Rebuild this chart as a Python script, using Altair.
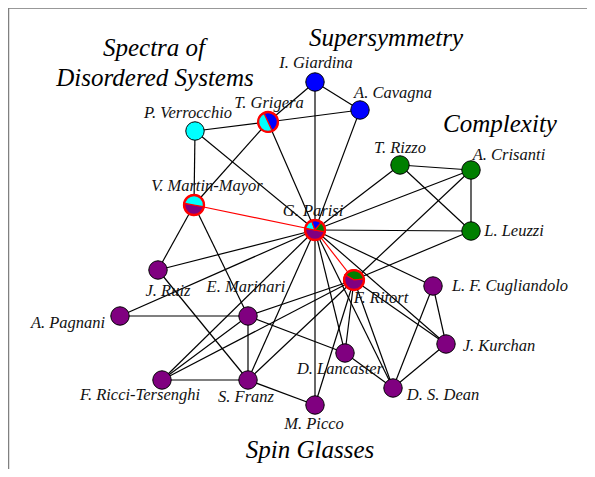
import math
import altair as alt
import pandas as pd

# ---------------- data ----------------
names = ["I. Giardina", "A. Cavagna", "T. Grigera", "P. Verrocchio", "T. Rizzo",
         "A. Crisanti", "L. Leuzzi", "V. Martin-Mayor", "G. Parisi", "J. Ruiz",
         "F. Ritort", "L. F. Cugliandolo", "A. Pagnani", "E. Marinari", "J. Kurchan",
         "D. Lancaster", "F. Ricci-Tersenghi", "S. Franz", "D. S. Dean", "M. Picco"]
node_x = [315, 360, 268, 195, 400, 471, 471, 194, 315, 158,
          354, 433, 120, 248, 446, 345, 162, 248, 393, 315]
node_y = [82, 110, 122, 131, 165, 170, 231, 205, 230, 270,
          280, 286, 316, 316, 344, 353, 380, 380, 388, 405]
node_field = ["Supersymmetry", "Supersymmetry", "mixed", "Spectra", "Complexity",
              "Complexity", "Complexity", "mixed", "mixed", "Spin Glasses",
              "mixed", "Spin Glasses", "Spin Glasses", "Spin Glasses", "Spin Glasses",
              "Spin Glasses", "Spin Glasses", "Spin Glasses", "Spin Glasses", "Spin Glasses"]

edge_source = ["P. Verrocchio", "T. Grigera", "T. Grigera", "I. Giardina", "I. Giardina",
               "A. Cavagna", "T. Grigera", "T. Grigera", "P. Verrocchio", "P. Verrocchio",
               "V. Martin-Mayor", "G. Parisi", "V. Martin-Mayor", "V. Martin-Mayor", "J. Ruiz",
               "J. Ruiz", "A. Pagnani", "A. Pagnani", "E. Marinari", "F. Ricci-Tersenghi",
               "S. Franz", "E. Marinari", "E. Marinari", "F. Ricci-Tersenghi", "F. Ricci-Tersenghi",
               "F. Ricci-Tersenghi", "S. Franz", "S. Franz", "G. Parisi", "G. Parisi",
               "G. Parisi", "G. Parisi", "G. Parisi", "G. Parisi", "G. Parisi",
               "G. Parisi", "T. Rizzo", "T. Rizzo", "A. Crisanti", "A. Crisanti",
               "L. Leuzzi", "F. Ritort", "F. Ritort", "F. Ritort", "F. Ritort",
               "L. F. Cugliandolo", "L. F. Cugliandolo", "J. Kurchan", "D. Lancaster"]
edge_target = ["T. Grigera", "A. Cavagna", "I. Giardina", "A. Cavagna", "G. Parisi",
               "G. Parisi", "G. Parisi", "V. Martin-Mayor", "V. Martin-Mayor", "G. Parisi",
               "G. Parisi", "F. Ritort", "J. Ruiz", "E. Marinari", "S. Franz",
               "G. Parisi", "G. Parisi", "E. Marinari", "S. Franz", "S. Franz",
               "M. Picco", "D. Lancaster", "F. Ritort", "E. Marinari", "G. Parisi",
               "F. Ritort", "G. Parisi", "F. Ritort", "M. Picco", "D. Lancaster",
               "D. S. Dean", "J. Kurchan", "L. F. Cugliandolo", "L. Leuzzi", "A. Crisanti",
               "T. Rizzo", "A. Crisanti", "L. Leuzzi", "L. Leuzzi", "F. Ritort",
               "F. Ritort", "D. Lancaster", "D. S. Dean", "J. Kurchan", "M. Picco",
               "J. Kurchan", "D. S. Dean", "D. S. Dean", "D. S. Dean"]
red_edges = [("V. Martin-Mayor", "G. Parisi"), ("G. Parisi", "F. Ritort")]

# pie composition of multi-field nodes (field, share)
pie_node = ["T. Grigera", "T. Grigera",
            "V. Martin-Mayor", "V. Martin-Mayor",
            "G. Parisi", "G. Parisi", "G. Parisi", "G. Parisi",
            "F. Ritort", "F. Ritort"]
pie_field = ["Supersymmetry", "Spectra",
             "Spin Glasses", "Spectra",
             "Spin Glasses", "Spectra", "Supersymmetry", "Complexity",
             "Complexity", "Spin Glasses"]
pie_share = [1, 1,
             1, 1,
             3, 1, 1, 1,
             2, 3]

group_titles = ["Spectra of", "Disordered Systems", "Supersymmetry", "Complexity", "Spin Glasses"]

# ---------------- styling / layout ----------------
field_color = {"Spectra": "#00ffff", "Supersymmetry": "#0000ff",
               "Complexity": "#007f00", "Spin Glasses": "#800080", "mixed": "#ffffff"}
pie_start_deg = {"T. Grigera": -25, "V. Martin-Mayor": 100, "G. Parisi": 100, "F. Ritort": -60}
label_pos = {"I. Giardina": (316, 63), "A. Cavagna": (393, 93), "T. Grigera": (269, 103),
             "P. Verrocchio": (188, 113), "T. Rizzo": (400, 148), "A. Crisanti": (509, 155),
             "L. Leuzzi": (514, 231), "V. Martin-Mayor": (207, 186), "G. Parisi": (313, 211),
             "J. Ruiz": (168, 291), "F. Ritort": (381, 298), "L. F. Cugliandolo": (510, 286),
             "A. Pagnani": (68, 323), "E. Marinari": (246, 287), "J. Kurchan": (499, 346),
             "D. Lancaster": (340, 369), "F. Ricci-Tersenghi": (140, 395), "S. Franz": (246, 397),
             "D. S. Dean": (443, 395), "M. Picco": (314, 424)}
title_pos = [(154, 48), (155, 78), (386, 38), (500, 124), (310, 450)]

W, H = 579, 461
X0, Y0 = 8, 8
FONT = "Times New Roman"

pos = {n: (x, y) for n, x, y in zip(names, node_x, node_y)}
nodes = pd.DataFrame({"name": names, "x": node_x, "y": node_y, "field": node_field})
nodes["color"] = nodes["field"].map(field_color)
nodes["lx"] = nodes["name"].map(lambda n: label_pos[n][0])
nodes["ly"] = nodes["name"].map(lambda n: label_pos[n][1])

red_set = set(frozenset(e) for e in red_edges)
edges = pd.DataFrame({
    "s": edge_source, "t": edge_target,
    "x": [pos[s][0] for s in edge_source], "y": [pos[s][1] for s in edge_source],
    "x2": [pos[t][0] for t in edge_target], "y2": [pos[t][1] for t in edge_target],
})
edges["red"] = [frozenset((s, t)) in red_set for s, t in zip(edge_source, edge_target)]

# pie slices
rows = []
totals = {}
for n, s in zip(pie_node, pie_share):
    totals[n] = totals.get(n, 0) + s
cum = {}
for n, f, s in zip(pie_node, pie_field, pie_share):
    c = cum.get(n, 0)
    start = math.radians(pie_start_deg[n])
    t1 = start + 2 * math.pi * c / totals[n]
    t2 = start + 2 * math.pi * (c + s) / totals[n]
    cum[n] = c + s
    rows.append({"name": n, "x": pos[n][0], "y": pos[n][1], "theta": t1, "theta2": t2,
                 "color": field_color[f]})
pies = pd.DataFrame(rows)
pie_nodes = nodes[nodes["field"] == "mixed"]
plain_nodes = nodes[nodes["field"] != "mixed"]

titles = pd.DataFrame({"text": group_titles,
                       "x": [p[0] for p in title_pos], "y": [p[1] for p in title_pos]})

xs = alt.Scale(domain=[X0, X0 + W], nice=False, zero=False)
ys = alt.Scale(domain=[Y0, Y0 + H], nice=False, zero=False, reverse=True)
X = lambda f="x": alt.X(f, type="quantitative", scale=xs, axis=None)
Y = lambda f="y": alt.Y(f, type="quantitative", scale=ys, axis=None)

frame_top = alt.Chart(pd.DataFrame({"a": [0]})).mark_rule(color="#808080", strokeWidth=1.5).encode(
    x=alt.value(0), x2=alt.value(W + 10), y=alt.value(0))
frame_left = alt.Chart(pd.DataFrame({"a": [0]})).mark_rule(color="#808080", strokeWidth=1.5).encode(
    x=alt.value(0.5), y=alt.value(0), y2=alt.value(H + 10))

black_edges = alt.Chart(edges[~edges["red"]]).mark_rule(color="black", strokeWidth=1.2).encode(
    x=X(), y=Y(), x2="x2:Q", y2="y2:Q")
red_edge_layer = alt.Chart(edges[edges["red"]]).mark_rule(color="red", strokeWidth=1.2).encode(
    x=X(), y=Y(), x2="x2:Q", y2="y2:Q")

plain = alt.Chart(plain_nodes).mark_circle(size=340, opacity=1, stroke="black", strokeWidth=1).encode(
    x=X(), y=Y(), color=alt.Color("color:N", scale=None))

pie_layer = alt.Chart(pies).mark_arc(radius=10.5, stroke="red", strokeWidth=1.2).encode(
    x=X(), y=Y(),
    theta=alt.Theta("theta:Q", scale=None), theta2="theta2:Q",
    color=alt.Color("color:N", scale=None))
pie_ring = alt.Chart(pie_nodes).mark_point(shape="circle", size=380, filled=False,
                                           color="red", strokeWidth=2, opacity=1).encode(
    x=X(), y=Y())

labels = alt.Chart(nodes).mark_text(font=FONT, fontStyle="italic", fontSize=16.5,
                                    color="#111111", align="center", baseline="middle").encode(
    x=X("lx"), y=Y("ly"), text="name:N")

title_layer = alt.Chart(titles).mark_text(font=FONT, fontStyle="italic", fontSize=25,
                                          color="black", align="center", baseline="middle").encode(
    x=X(), y=Y(), text="text:N")

chart = alt.layer(
    frame_top, frame_left, black_edges, red_edge_layer, plain, pie_layer, pie_ring,
    labels, title_layer
).properties(width=W, height=H, autosize=alt.AutoSizeParams(type="none"), padding=0
).configure_view(stroke=None).configure(background="white")

chart.save("out.html", embed_options={"renderer": "svg", "actions": False})
